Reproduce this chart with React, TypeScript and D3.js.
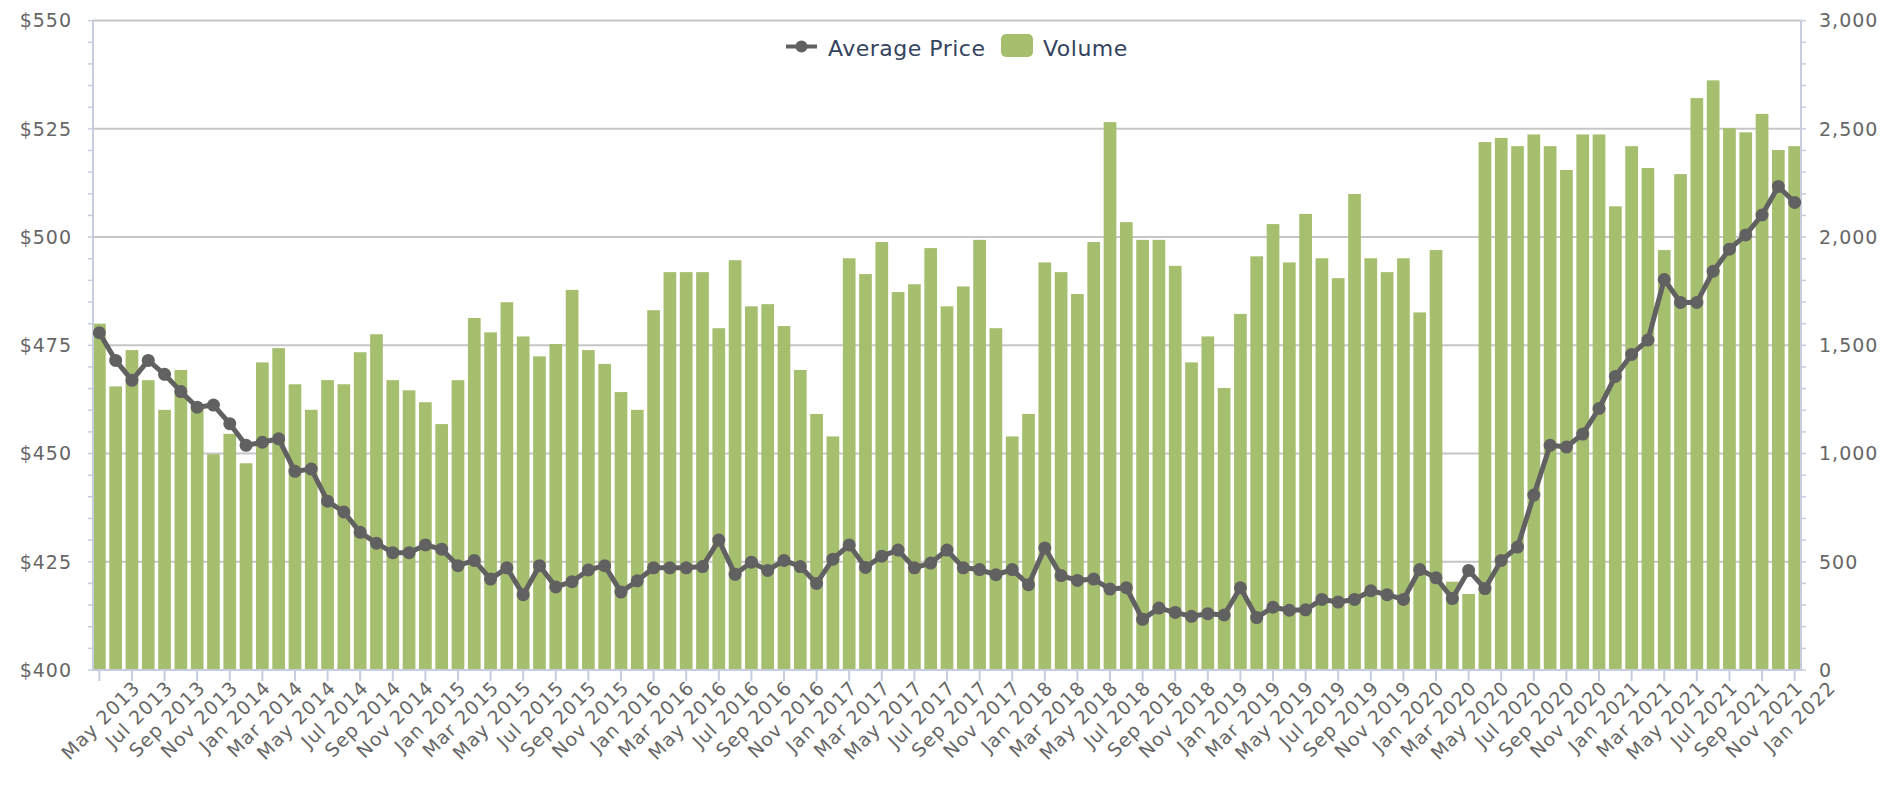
import React, { useEffect } from "react";
import * as d3 from "d3";

// Monthly categories May 2013 .. Jan 2022
const startMonth = new Date(2013, 4, 1);
const endMonth = new Date(2022, 1, 1);
const months: Date[] = d3.timeMonth.range(startMonth, endMonth);
const fmtMonth = d3.timeFormat("%b %Y");

const volume: number[] = [
  1600, 1310, 1478, 1339, 1202, 1386, 1210, 997, 1091, 955, 1421, 1487, 1320, 1202, 1339,
  1320, 1468, 1551, 1339, 1292, 1237, 1136, 1339, 1626, 1560, 1699, 1541, 1449, 1506, 1756,
  1478, 1414, 1284, 1202, 1662, 1838, 1838, 1838, 1579, 1893, 1680, 1690, 1589, 1386, 1183,
  1079, 1902, 1829, 1977, 1746, 1782, 1949, 1680, 1772, 1987, 1579, 1079, 1183, 1883, 1838,
  1737, 1977, 2531, 2069, 1987, 1987, 1867, 1421, 1541, 1303, 1645, 1911, 2060, 1883, 2107,
  1902, 1810, 2199, 1902, 1838, 1902, 1652, 1940, 408, 351, 2439, 2458, 2420, 2474, 2420,
  2310, 2474, 2474, 2142, 2420, 2319, 1940, 2291, 2642, 2724, 2503, 2484, 2569, 2402, 2420,
];

const avgPrice: number[] = [
  477.9, 471.5, 466.9, 471.5, 468.3, 464.3, 460.7, 461.2, 456.9, 451.9, 452.6, 453.4, 445.9, 446.4, 439.0,
  436.5, 431.8, 429.3, 427.1, 427.1, 428.9, 427.9, 424.1, 425.3, 421.0, 423.6, 417.4, 424.1, 419.2, 420.4,
  423.1, 424.1, 418.0, 420.6, 423.6, 423.6, 423.6, 423.9, 430.0, 422.1, 424.9, 423.0, 425.3, 423.9, 420.0,
  425.6, 428.9, 423.7, 426.3, 427.7, 423.6, 424.7, 427.7, 423.6, 423.2, 422.0, 423.2, 419.7, 428.2, 421.8,
  420.7, 421.0, 418.7, 419.0, 411.7, 414.3, 413.3, 412.4, 413.0, 412.7, 419.0, 412.1, 414.5, 413.8, 413.9,
  416.3, 415.7, 416.3, 418.3, 417.4, 416.3, 423.2, 421.3, 416.5, 423.0, 418.8, 425.3, 428.4, 440.4, 451.9,
  451.5, 454.5, 460.4, 467.8, 472.9, 476.2, 490.2, 484.9, 484.9, 492.1, 497.2, 500.5, 505.1, 511.7, 508.0,
];

const priceTicks: number[] = [400, 425, 450, 475, 500, 525, 550];
const volumeTicks: number[] = [0, 500, 1000, 1500, 2000, 2500, 3000];

const W = 1900;
const H = 800;
const left = 93;
const right = 1801;
const top = 20.6;
const bottom = 670;

const FONT = "'DejaVu Sans', Verdana, sans-serif";
const BAR = "#a5bf6f";
const LINE = "#616161";
const AXIS = "#c5cddf";
const GRID = "#c6c6c6";
const LABEL = "#666666";
const LEGEND = "#34435e";

export default function App() {
  useEffect(() => {
    document.body.style.margin = "0";
    document.body.style.overflow = "hidden";
  }, []);

  const idx = months.map((_, i) => i);
  const x = d3.scaleBand<number>().domain(idx).range([left, right]).paddingInner(0.22).paddingOuter(0);
  const yP = d3.scaleLinear().domain([400, 550]).range([bottom, top]);
  const yV = d3.scaleLinear().domain([0, 3000]).range([bottom, top]);
  const cx = (i: number) => (x(i) as number) + x.bandwidth() / 2;

  const line = d3
    .line<number>()
    .x((_, i) => cx(i))
    .y((d) => yP(d));

  const minorP = d3.range(400, 551, 5);
  const minorV = d3.range(0, 3001, 100);
  const xTicks = idx.filter((i) => i % 2 === 0);

  return (
    <div style={{ position: "absolute", left: 0, top: 0 }}>
      <svg width={W} height={H} style={{ display: "block", fontFamily: FONT }}>
        <rect x={0} y={0} width={W} height={H} fill="#ffffff" />
        {/* grid */}
        {priceTicks.map((t) => (
          <line key={"g" + t} x1={left} x2={right} y1={yP(t)} y2={yP(t)} stroke={GRID} strokeWidth={2} />
        ))}
        {/* bars */}
        {volume.map((v, i) => (
          <rect key={"b" + i} x={x(i)} y={yV(v)} width={x.bandwidth()} height={bottom - yV(v)} fill={BAR} />
        ))}
        {/* axes lines */}
        <line x1={left} x2={left} y1={top} y2={bottom} stroke={AXIS} strokeWidth={2} />
        <line x1={right} x2={right} y1={top} y2={bottom} stroke={AXIS} strokeWidth={2} />
        <line x1={left - 1} x2={right + 1} y1={bottom} y2={bottom} stroke={AXIS} strokeWidth={2} />
        {/* minor ticks */}
        {minorP.map((t) => (
          <line key={"lt" + t} x1={left - 5} x2={left} y1={yP(t)} y2={yP(t)} stroke={AXIS} strokeWidth={1.5} />
        ))}
        {minorV.map((t) => (
          <line key={"rt" + t} x1={right} x2={right + 5} y1={yV(t)} y2={yV(t)} stroke={AXIS} strokeWidth={1.5} />
        ))}
        {/* left labels */}
        {priceTicks.map((t) => (
          <text key={"pl" + t} x={72} y={yP(t)} dy="0.36em" textAnchor="end" fontSize={19} letterSpacing="1px" fill={LABEL}>
            {"$" + t}
          </text>
        ))}
        {volumeTicks.map((t) => (
          <text key={"vl" + t} x={1819} y={yV(t)} dy="0.36em" textAnchor="start" fontSize={19} letterSpacing="1px" fill={LABEL}>
            {d3.format(",")(t)}
          </text>
        ))}
        {/* x ticks & labels */}
        {xTicks.map((i) => (
          <g key={"xt" + i}>
            <line x1={cx(i)} x2={cx(i)} y1={bottom} y2={bottom + 11} stroke={AXIS} strokeWidth={2} />
            <text
              transform={`translate(${cx(i) + 42},${bottom + 19}) rotate(-45)`}
              textAnchor="end"
              fontSize={19}
              letterSpacing="1px"
              fill={LABEL}
            >
              {fmtMonth(months[i])}
            </text>
          </g>
        ))}
        {/* price line */}
        <path d={line(avgPrice) || ""} fill="none" stroke={LINE} strokeWidth={5} strokeLinejoin="round" />
        {avgPrice.map((p, i) => (
          <circle key={"m" + i} cx={cx(i)} cy={yP(p)} r={6.5} fill={LINE} />
        ))}
        {/* legend */}
        <line x1={786} x2={817} y1={46.5} y2={46.5} stroke={LINE} strokeWidth={4} />
        <circle cx={801.5} cy={46.5} r={6} fill={LINE} />
        <text x={828} y={56} fontSize={22} letterSpacing="0.5px" fill={LEGEND}>
          Average Price
        </text>
        <rect x={1001} y={34} width={32} height={23} rx={5} fill={BAR} />
        <text x={1043} y={56} fontSize={22} letterSpacing="0.5px" fill={LEGEND}>
          Volume
        </text>
      </svg>
    </div>
  );
}
